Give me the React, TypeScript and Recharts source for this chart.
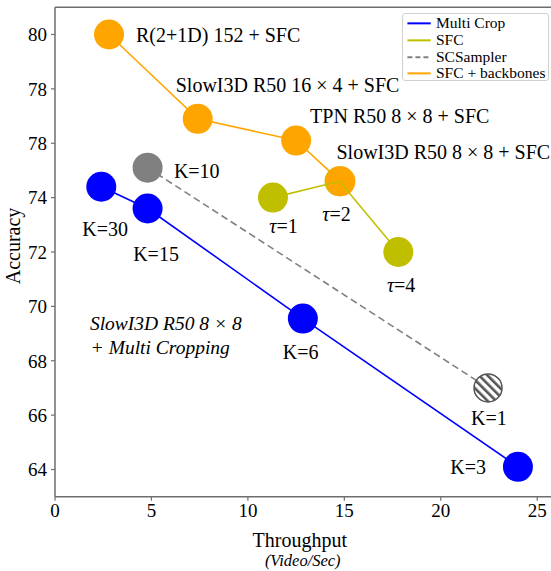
import React from 'react';
import { ScatterChart, Scatter, XAxis, YAxis, ReferenceLine, ReferenceDot, Label } from 'recharts';

// ---------- data ----------
const multiCropX = [2.4, 4.8, 12.85, 24.0];
const multiCropY = [74.4, 73.6, 69.55, 64.1];
const multiCropLabels = ['K=30', 'K=15', 'K=6', 'K=3'];

const sfcX = [11.3, 14.75, 17.8];
const sfcY = [74.0, 74.6, 72.0];
const sfcLabels = ['τ=1', 'τ=2', 'τ=4'];

const scSamplerX = [4.8, 22.45];
const scSamplerY = [75.1, 67.0];
const scSamplerLabels = ['K=10', 'K=1'];

const backboneX = [2.8, 7.4, 12.5, 14.8];
const backboneY = [80.0, 76.9, 76.1, 74.6];
const backboneLabels = [
  'R(2+1D) 152 + SFC',
  'SlowI3D R50 16 × 4 + SFC',
  'TPN R50 8 × 8 + SFC',
  'SlowI3D R50 8 × 8 + SFC',
];

const xTicks = [0, 5, 10, 15, 20, 25];
const yTicks = [64, 66, 68, 70, 72, 74, 76, 78, 80];
const yTickLabels = ['64', '66', '68', '70', '72', '74', '78', '78', '80'];

const legendNames = ['Multi Crop', 'SFC', 'SCSampler', 'SFC + backbones'];
const noteLines = ['SlowI3D R50 8 × 8', '+ Multi Cropping'];
const noteX = 1.81;
const noteY = 69.14;

const xAxisTitle = 'Throughput';
const xAxisSubtitle = '(Video/Sec)';
const yAxisTitle = 'Accuracy';

// ---------- styles ----------
const FONT = '"Liberation Serif", "Times New Roman", serif';
const BLUE = '#0000ff';
const YELLOW = '#bfbf00';
const GREY = '#808080';
const ORANGE = '#ffa500';
const AXIS = '#6e6e6e';
const MARKER_R = 15;
const legendColors = [BLUE, YELLOW, GREY, ORANGE];
const legendDashed = [false, false, true, false];
const HATCHED = new Set(['K=1']);

const LABEL_OFFSETS: Record<string, { dx: number; dy: number }> = {
  'R(2+1D) 152 + SFC': { dx: 27, dy: 7.7 },
  'SlowI3D R50 16 × 4 + SFC': { dx: -22, dy: -26.6 },
  'TPN R50 8 × 8 + SFC': { dx: 14, dy: -17.7 },
  'SlowI3D R50 8 × 8 + SFC': { dx: -4, dy: -22.4 },
  'K=10': { dx: 26.3, dy: 10.6 },
  'K=30': { dx: -19, dy: 49.3 },
  'K=15': { dx: -14.4, dy: 52.4 },
  'τ=1': { dx: -3.7, dy: 35.4 },
  'τ=2': { dx: -17.3, dy: 39.4 },
  'τ=4': { dx: -11.4, dy: 40 },
  'K=6': { dx: -20, dy: 40 },
  'K=1': { dx: -17, dy: 36.7 },
  'K=3': { dx: -67.6, dy: 7.6 },
};

const zip = (xs: number[], ys: number[], labels: string[]) =>
  xs.map((x, i) => ({ x, y: ys[i], label: labels[i] }));

const multiCrop = zip(multiCropX, multiCropY, multiCropLabels);
const sfc = zip(sfcX, sfcY, sfcLabels);
const scSampler = zip(scSamplerX, scSamplerY, scSamplerLabels);
const backbones = zip(backboneX, backboneY, backboneLabels);

const renderLabelText = (label: string) => {
  if (label.startsWith('τ')) {
    return (
      <>
        <tspan fontStyle="italic">τ</tspan>
        {label.slice(1)}
      </>
    );
  }
  return label;
};

const makeShape = (color: string, showLabels = true) => (props: any) => {
  const { cx, cy, payload } = props;
  if (cx == null || cy == null) return <g />;
  const label: string = payload?.label ?? '';
  const off = LABEL_OFFSETS[label] || { dx: 20, dy: 7 };
  const hatch = HATCHED.has(label);
  return (
    <g>
      {hatch ? (
        <g>
          <defs>
            <pattern
              id="hatchPattern"
              patternUnits="userSpaceOnUse"
              width="6"
              height="6"
              patternTransform="rotate(-45)"
            >
              <rect x="0" y="0" width="2.6" height="6" fill="#555" />
            </pattern>
          </defs>
          <circle cx={cx} cy={cy} r={MARKER_R - 1} fill="#fff" />
          <circle cx={cx} cy={cy} r={MARKER_R - 1} fill="url(#hatchPattern)" stroke="#555" strokeWidth={1.5} />
        </g>
      ) : (
        <circle cx={cx} cy={cy} r={MARKER_R} fill={color} />
      )}
      {showLabels && (
        <text x={cx + off.dx} y={cy + off.dy} fontFamily={FONT} fontSize={20} fill="#000">
          {renderLabelText(label)}
        </text>
      )}
    </g>
  );
};

const emptyShape = () => <g />;

const renderXLabel = (props: any) => {
  const vb = props.viewBox || { x: 55, y: 496, width: 501.5, height: 75 };
  const cx = vb.x + vb.width / 2 - 6;
  return (
    <g>
      <text x={cx} y={vb.y + 50.5} textAnchor="middle" fontFamily={FONT} fontSize={20} fill="#000">
        {xAxisTitle}
      </text>
      <text x={cx + 3} y={vb.y + 69.5} textAnchor="middle" fontFamily={FONT} fontSize={16.5} fontStyle="italic" fill="#000">
        {xAxisSubtitle}
      </text>
    </g>
  );
};

const renderYLabel = (props: any) => {
  const vb = props.viewBox || { x: 0, y: 7.3, width: 55, height: 489.4 };
  const x = vb.x + 20;
  const y = vb.y + vb.height / 2 - 6;
  return (
    <text
      x={x}
      y={y}
      transform={`rotate(-90, ${x}, ${y})`}
      textAnchor="middle"
      fontFamily={FONT}
      fontSize={20}
      fill="#000"
    >
      {yAxisTitle}
    </text>
  );
};

const noteShape = (props: any) => {
  const { cx, cy } = props;
  if (cx == null || cy == null) return <g />;
  return (
    <text fontFamily={FONT} fontSize={19.5} fontStyle="italic" fill="#000">
      <tspan x={cx} y={cy}>{noteLines[0]}</tspan>
      <tspan x={cx + 0.7} y={cy + 24}>{noteLines[1]}</tspan>
    </text>
  );
};

const LegendBox = () => (
  <div
    style={{
      position: 'absolute',
      left: 402.3,
      top: 13.3,
      width: 146.7,
      height: 67.7,
      boxSizing: 'border-box',
      border: '1px solid #d0d0d0',
      borderRadius: 3,
      background: 'rgba(255,255,255,0.85)',
      fontFamily: FONT,
      fontSize: 15.5,
      color: '#000',
    }}
  >
    {legendNames.map((name, i) => (
      <div
        key={name}
        style={{
          position: 'absolute',
          left: 0,
          top: 1 + i * 16.7,
          height: 16.7,
          display: 'flex',
          alignItems: 'center',
          whiteSpace: 'nowrap',
        }}
      >
        <svg width={32} height={16.7} style={{ display: 'block' }}>
          <line
            x1={4.4}
            x2={27.7}
            y1={8.35}
            y2={8.35}
            stroke={legendColors[i]}
            strokeWidth={2}
            strokeDasharray={legendDashed[i] ? '5 3' : undefined}
          />
        </svg>
        <span style={{ marginLeft: 0.7, lineHeight: '16.7px' }}>{name}</span>
      </div>
    ))}
  </div>
);

export default function App() {
  return (
    <div
      style={{
        position: 'absolute',
        left: 0,
        top: 0,
        width: 551,
        height: 571,
        overflow: 'hidden',
        background: '#fff',
      }}
    >
      <ScatterChart
        width={570}
        height={571}
        margin={{ top: 7.3, right: 13.5, bottom: 0, left: 0 }}
      >
        <XAxis
          type="number"
          dataKey="x"
          domain={[0, 26]}
          ticks={xTicks}
          allowDataOverflow
          height={74.3}
          tickSize={4}
          tickMargin={3}
          axisLine={{ stroke: AXIS, strokeWidth: 1.5 }}
          tickLine={{ stroke: AXIS, strokeWidth: 1.2 }}
          tick={{ fontFamily: FONT, fontSize: 19, fill: '#000' }}
          interval={0}
        >
          <Label content={renderXLabel} />
        </XAxis>
        <YAxis
          type="number"
          dataKey="y"
          domain={[63, 81]}
          ticks={yTicks}
          allowDataOverflow
          width={55}
          tickSize={4}
          tickMargin={4}
          axisLine={{ stroke: AXIS, strokeWidth: 1.5 }}
          tickLine={{ stroke: AXIS, strokeWidth: 1.2 }}
          tick={{ fontFamily: FONT, fontSize: 19, fill: '#000' }}
          tickFormatter={(v: number) => yTickLabels[yTicks.indexOf(v)] ?? String(v)}
          interval={0}
        >
          <Label content={renderYLabel} />
        </YAxis>
        <ReferenceLine y={81} stroke={AXIS} strokeWidth={1.5} />
        <ReferenceLine x={26} stroke={AXIS} strokeWidth={1.5} />

        <Scatter
          name="Multi Crop"
          data={multiCrop}
          fill={BLUE}
          line={{ stroke: BLUE, strokeWidth: 1.6 }}
          lineType="joint"
          shape={makeShape(BLUE)}
          isAnimationActive={false}
        />
        <Scatter
          name="SCSampler"
          data={scSampler}
          fill={GREY}
          line={{ stroke: GREY, strokeWidth: 1.6, strokeDasharray: '7 4' }}
          lineType="joint"
          shape={makeShape(GREY)}
          isAnimationActive={false}
        />
        <Scatter
          name="SFC markers"
          data={sfc}
          fill={YELLOW}
          shape={makeShape(YELLOW)}
          isAnimationActive={false}
        />
        <Scatter
          name="SFC + backbones"
          data={backbones}
          fill={ORANGE}
          line={{ stroke: ORANGE, strokeWidth: 1.6 }}
          lineType="joint"
          shape={makeShape(ORANGE)}
          isAnimationActive={false}
        />
        <Scatter
          name="SFC"
          data={sfc}
          fill={YELLOW}
          line={{ stroke: YELLOW, strokeWidth: 1.6 }}
          lineType="joint"
          shape={emptyShape}
          isAnimationActive={false}
        />
        <ReferenceDot x={noteX} y={noteY} r={0} shape={noteShape} ifOverflow="visible" />
      </ScatterChart>
      <LegendBox />
    </div>
  );
}
